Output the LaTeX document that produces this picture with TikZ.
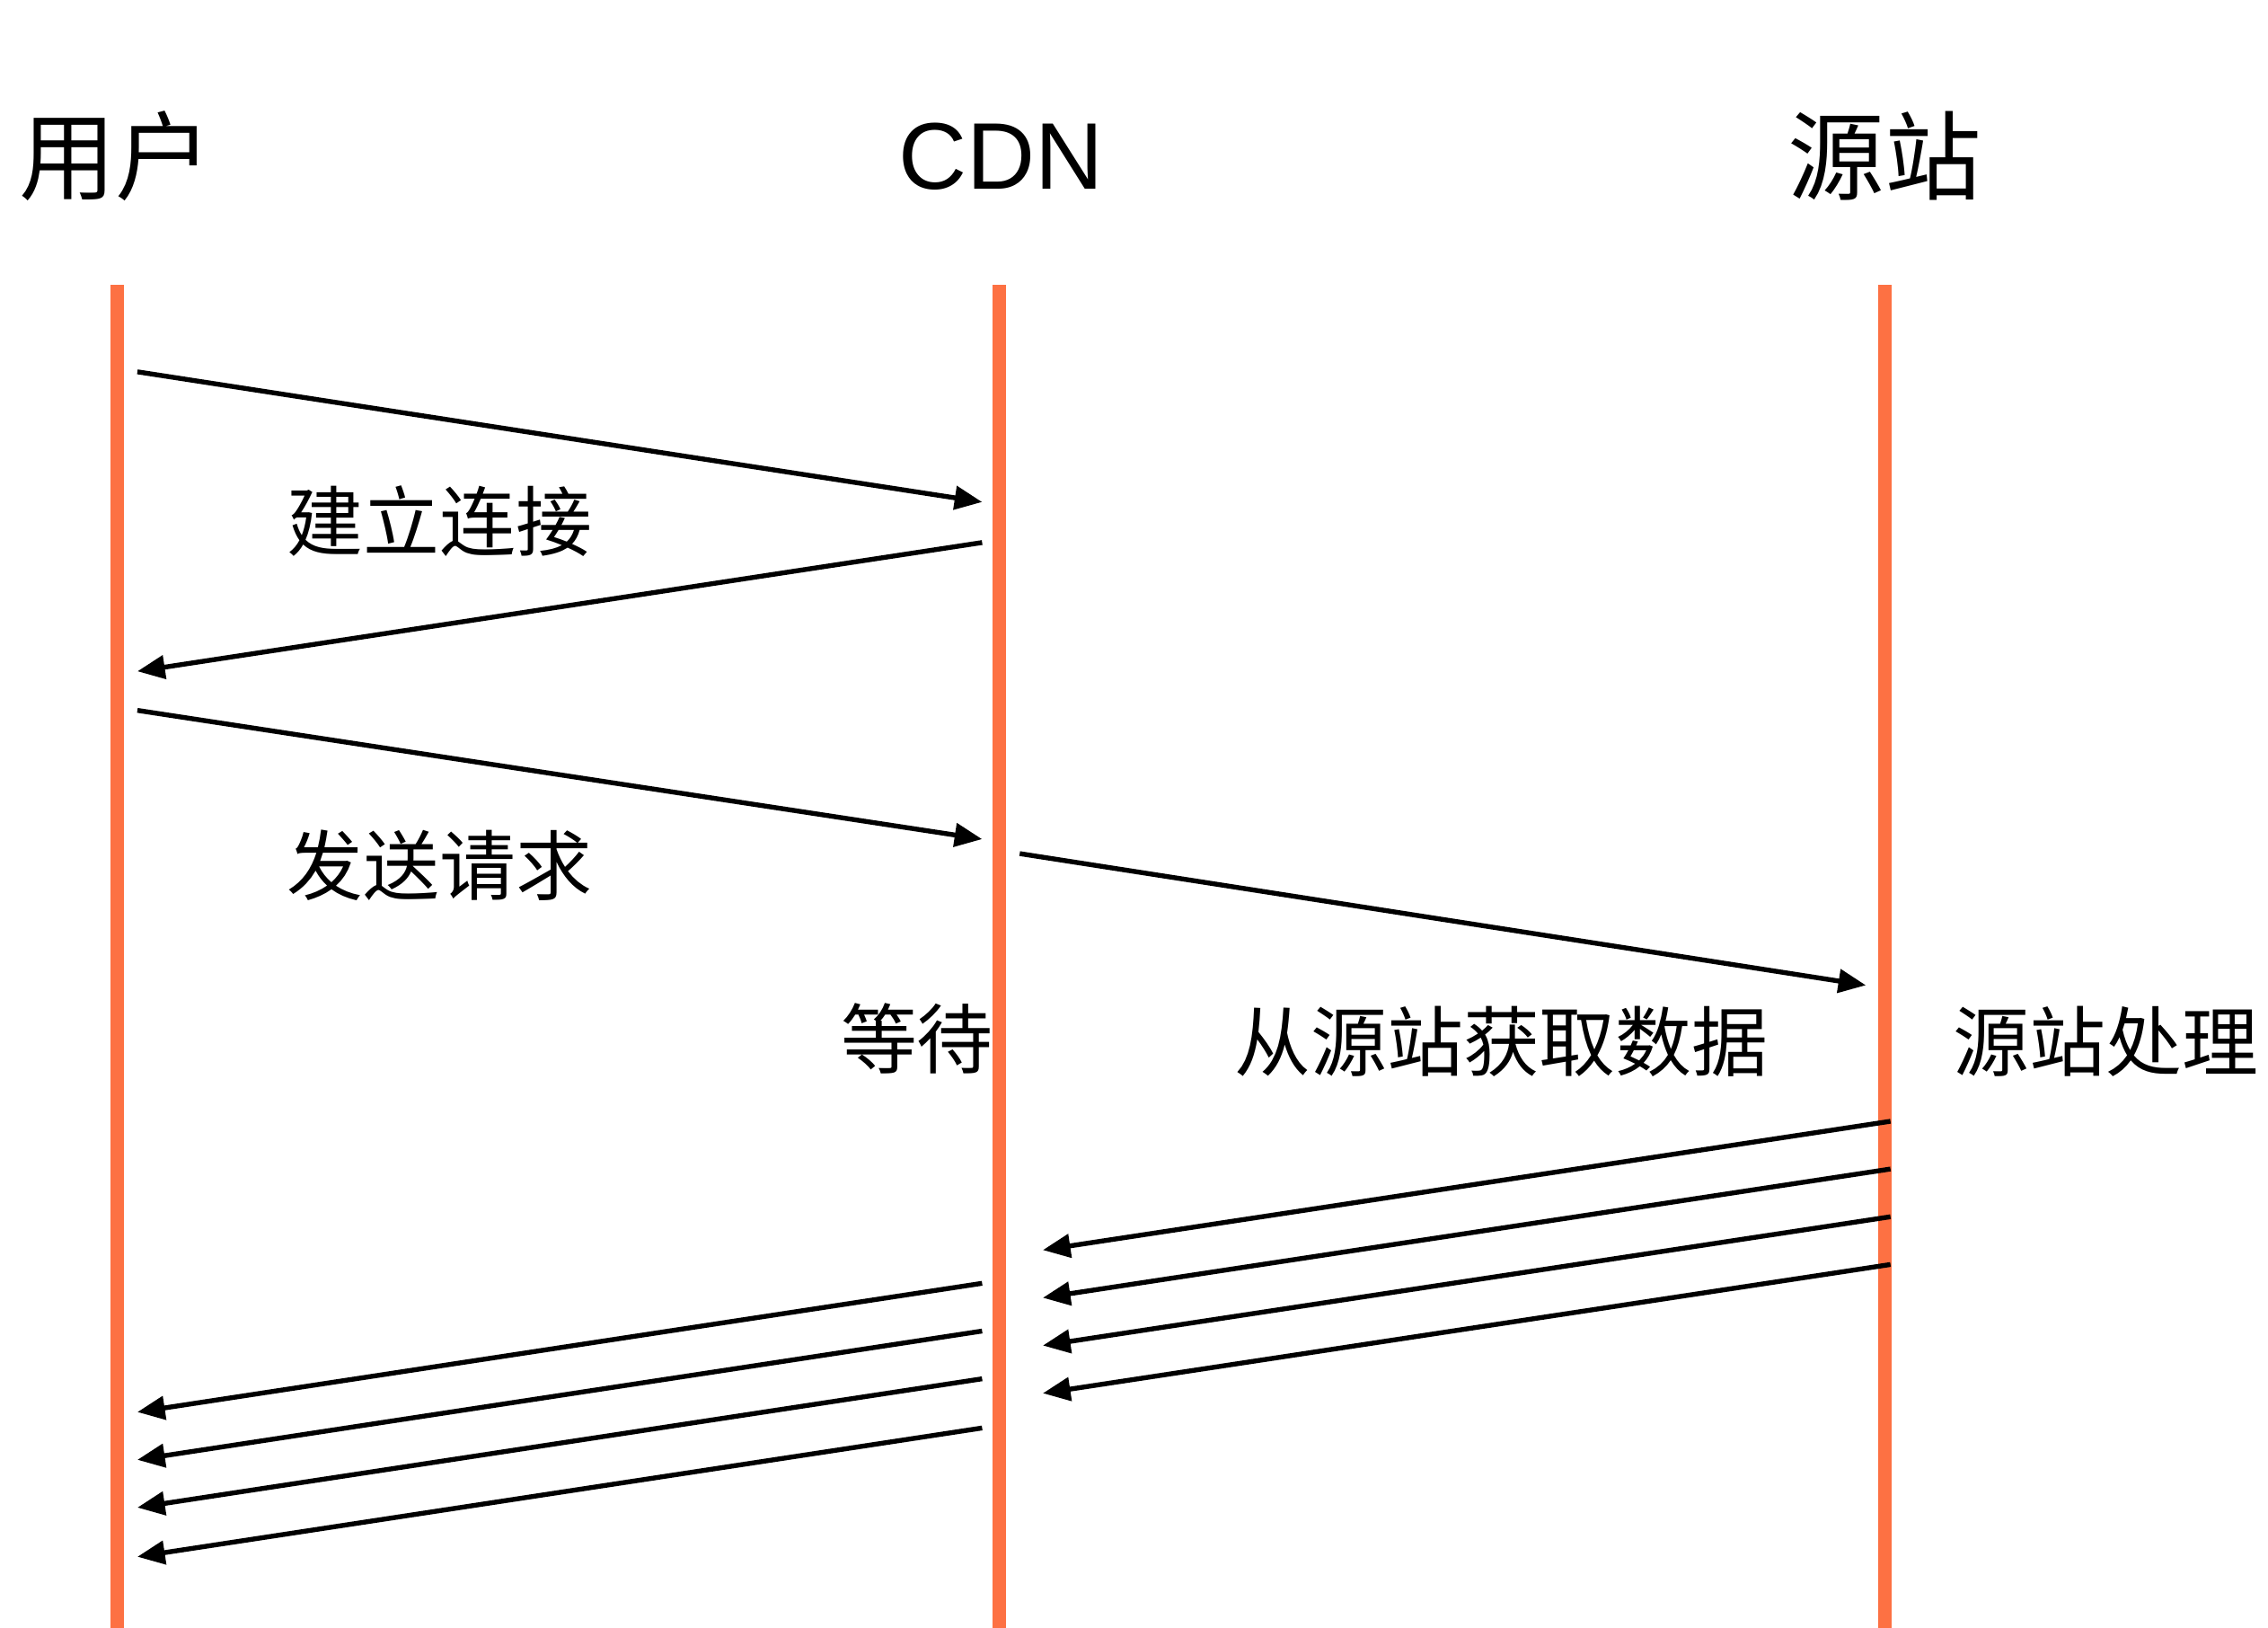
\documentclass[tikz,border=0pt]{standalone}
\usepackage{fontspec}
\setmainfont{Liberation Sans}
\newfontfamily\cjk{Noto Sans CJK SC}
\usetikzlibrary{arrows.meta}
\definecolor{life}{RGB}{253,113,67}
\begin{document}
\begin{tikzpicture}[x=0.01cm,y=-0.01cm,
  lifeline/.style={draw=life,line width=2.6pt},
  msg/.style={draw=black,line width=0.95pt,-{Triangle[length=0.19cm,width=0.16cm]}},
  head/.style={font=\cjk\fontsize{19}{22}\selectfont,inner sep=0pt,anchor=center},
  lbl/.style={font=\cjk\fontsize{15}{18}\selectfont,inner sep=0pt,anchor=center}]
\useasboundingbox (0,0) rectangle (1568,1125);
% headers
\node[head] (user) at (80,108) {用户};
\node[font=\fontsize{18.6}{22}\selectfont,inner sep=0pt,anchor=center] (cdn) at (692,108) {CDN};
\node[head] (origin) at (1303,108) {源站};
% lifelines
\coordinate (utop) at (81,197);  \coordinate (ubot) at (81,1125);
\coordinate (ctop) at (691,197);  \coordinate (cbot) at (691,1125);
\coordinate (otop) at (1303,197); \coordinate (obot) at (1303,1125);
\draw[lifeline] (utop) -- (ubot);
\draw[lifeline] (ctop) -- (cbot);
\draw[lifeline] (otop) -- (obot);
% handshake
\coordinate (a1s) at (95,257);  \coordinate (a1e) at (679,347);
\coordinate (a2s) at (679,375); \coordinate (a2e) at (95,464);
\coordinate (a3s) at (95,491);  \coordinate (a3e) at (679,580);
\coordinate (a4s) at (705,590); \coordinate (a4e) at (1290,681);
\draw[msg] (a1s) -- (a1e);
\draw[msg] (a2s) -- (a2e);
\draw[msg] (a3s) -- (a3e);
\draw[msg] (a4s) -- (a4e);
% labels
\node[lbl] (l1) at (304,360) {建立连接};
\node[lbl] (l2) at (304,598) {发送请求};
\node[lbl] (l3) at (634,718) {等待};
\node[lbl] (l4) at (1038,720) {从源站获取数据};
\node[lbl] (l5) at (1456,720) {源站处理};
% data from origin to CDN
\foreach \i/\y in {1/775,2/808,3/841,4/874}{
  \coordinate (s\i) at (1307,\y);
  \coordinate (c\i) at (721,\y+89);
  \draw[msg] (s\i) -- (c\i);
}
% data from CDN to user
\foreach \i/\y in {1/887,2/920,3/953,4/987}{
  \coordinate (d\i) at (679,\y);
  \coordinate (u\i) at (95,\y+89);
  \draw[msg] (d\i) -- (u\i);
}
\end{tikzpicture}
\end{document}
